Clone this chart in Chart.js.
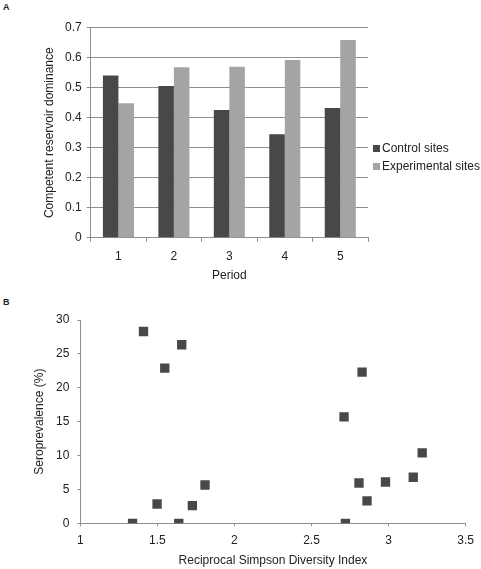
<!DOCTYPE html>
<html>
<head>
<meta charset="utf-8">
<script src="https://cdn.jsdelivr.net/npm/chart.js@4/dist/chart.umd.min.js"></script>
<style>
  html, body { margin: 0; padding: 0; background: #fff; }
  body { position: relative; width: 481px; height: 569px; overflow: hidden;
         font-family: "Liberation Sans", Arial, sans-serif; color: #222; }
  .panel { position: absolute; left: 0; width: 481px; }
  .tag { position: absolute; font-weight: bold; font-size: 9px; line-height: 9px; }
  .legend { position: absolute; left: 373px; top: 140px; font-size: 12px; }
  .legend div { height: 18px; line-height: 16px; white-space: nowrap; }
  .legend span { display: inline-block; width: 7px; height: 7px; margin-right: 2px; vertical-align: 0px; }
</style>
</head>
<body>
<div class="tag" style="left:3px;top:3px">A</div>
<div class="panel" style="top:0;height:285px"><canvas id="barChart" width="481" height="285"></canvas></div>
<div class="legend">
  <div><span style="background:#484848"></span>Control sites</div>
  <div><span style="background:#a4a4a4"></span>Experimental sites</div>
</div>
<div class="tag" style="left:3px;top:298px">B</div>
<div class="panel" style="top:285px;height:284px"><canvas id="scatterChart" width="481" height="284"></canvas></div>

<script>
// Panel A — competent reservoir dominance per period
const periods = ["1", "2", "3", "4", "5"];
const controlSites = [0.541, 0.506, 0.426, 0.345, 0.432];
const experimentalSites = [0.448, 0.568, 0.570, 0.592, 0.659];

// Panel B — seroprevalence vs reciprocal Simpson diversity
const diversityIndex = [1.41, 1.658, 1.548, 2.828, 2.711, 3.218, 3.16, 2.98, 2.808, 2.86, 2.72, 1.809, 1.498, 1.727, 1.339, 1.639];
const seroprevalence = [28.3, 26.35, 22.9, 22.3, 15.7, 10.4, 6.8, 6.1, 5.95, 3.3, 0, 5.65, 2.85, 2.6, 0, 0];

const DARK = "#484848";
const LIGHT = "#a4a4a4";
const AXIS = "#8f8f8f";
const TEXT = "#222";
const FONT = { family: "'Liberation Sans', Arial, sans-serif", size: 12 };

Chart.defaults.font = FONT;
Chart.defaults.color = TEXT;

new Chart(document.getElementById("barChart"), {
  type: "bar",
  data: {
    labels: periods,
    datasets: [
      { label: "Control sites", data: controlSites, backgroundColor: DARK },
      { label: "Experimental sites", data: experimentalSites, backgroundColor: LIGHT },
    ],
  },
  options: {
    responsive: false,
    animation: false,
    datasets: { bar: { categoryPercentage: 0.56, barPercentage: 1 } },
    layout: { padding: { left: 42.8, top: 27.7, right: 113, bottom: 1.8 } },
    plugins: { legend: { display: false }, tooltip: { enabled: false } },
    scales: {
      x: {
        afterFit: (s) => { s.height = 45.5; },
        grid: { drawOnChartArea: false, drawTicks: true, tickLength: 4, color: AXIS, offset: true },
        border: { color: AXIS },
        ticks: { padding: 8, color: TEXT },
        title: { display: true, text: "Period", padding: 0, color: TEXT },
      },
      y: {
        min: 0,
        max: 0.7,
        afterFit: (s) => { s.width = 47.9; },
        grid: { color: AXIS, tickLength: 4 },
        border: { color: AXIS },
        ticks: { stepSize: 0.1, padding: 5, color: TEXT, callback: (v) => (v === 0 ? "0" : v.toFixed(1)) },
        title: { display: true, text: "Competent reservoir dominance", padding: 0, color: TEXT },
      },
    },
  },
});

const points = diversityIndex.map((x, i) => ({ x, y: seroprevalence[i] }));

new Chart(document.getElementById("scatterChart"), {
  type: "scatter",
  data: {
    datasets: [{
      data: points,
      pointStyle: "rect",
      pointRadius: 6.6,
      backgroundColor: DARK,
      borderWidth: 0,
    }],
  },
  options: {
    responsive: false,
    animation: false,
    layout: { padding: { left: 32.1, top: 35, right: 14.3, bottom: 0.8 } },
    plugins: { legend: { display: false }, tooltip: { enabled: false } },
    scales: {
      x: {
        type: "linear",
        min: 1,
        max: 3.5,
        afterFit: (s) => { s.height = 44.9; },
        grid: { drawOnChartArea: false, tickLength: 3, color: AXIS },
        border: { color: AXIS },
        // Excel-style labels: "1", "1.5", "2" …
        ticks: { stepSize: 0.5, padding: 7, color: TEXT, callback: (v) => String(Math.round(v * 10) / 10) },
        title: { display: true, text: "Reciprocal Simpson Diversity Index", padding: 0, color: TEXT },
      },
      y: {
        min: 0,
        max: 30,
        afterFit: (s) => { s.width = 48.2; },
        grid: { drawOnChartArea: false, tickLength: 3, color: AXIS },
        border: { color: AXIS },
        ticks: { stepSize: 5, padding: 8, color: TEXT },
        title: { display: true, text: "Seroprevalence (%)", padding: 0, color: TEXT },
      },
    },
  },
});
</script>
</body>
</html>
